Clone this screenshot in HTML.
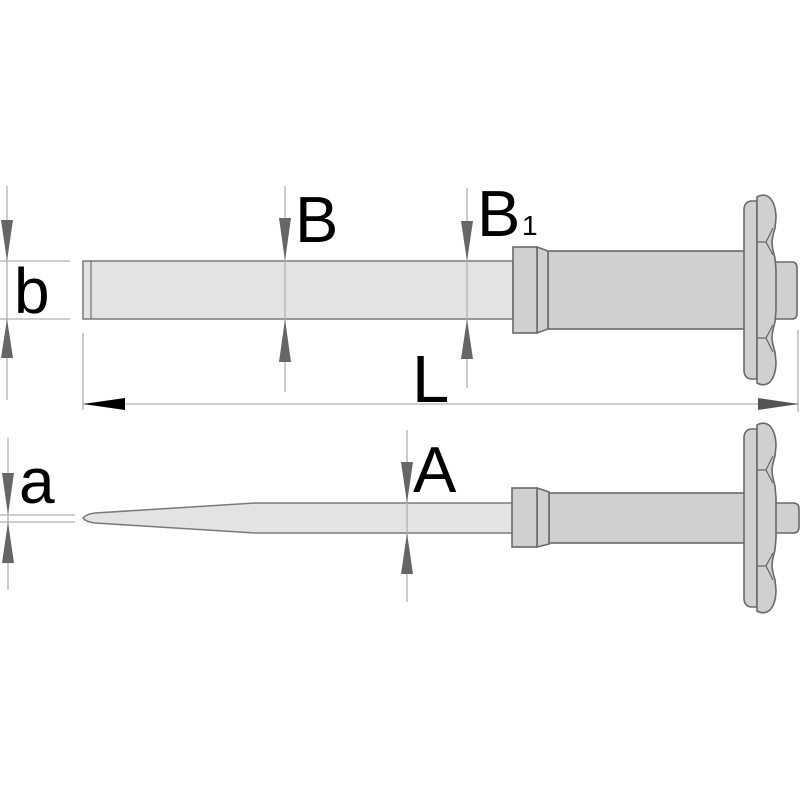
<!DOCTYPE html>
<html><head><style>
html,body{margin:0;padding:0;background:#fff;}
svg{display:block;}
text{font-family:"Liberation Sans",sans-serif;fill:#000;}
</style></head><body>
<svg width="800" height="800" viewBox="0 0 800 800" xmlns="http://www.w3.org/2000/svg">
<defs>
<g id="guard">
  <path d="M757,-89 L751,-89 Q744,-88 744,-80 L744,80 Q744,88 751,89 L757,89 Z" fill="#d0d0d0" stroke="#6a6a6a" stroke-width="1.6"/>
  <path d="M757,-93 Q764,-97 770,-92 Q776,-85 776,-72 L775,-62 Q772,-52 772,-48 Q772,-42 775,-32 L776,-20 L776,20 L775,32 Q772,42 772,48 Q772,52 775,62 L776,72 Q776,85 770,92 Q764,97 757,93 Z" fill="#d0d0d0" stroke="#6a6a6a" stroke-width="1.6"/>
  <path d="M757,-48 L766,-48 L773,-62 M766,-48 L773,-35 M757,48 L766,48 L773,62 M766,48 L773,35" fill="none" stroke="#6a6a6a" stroke-width="1.3"/>
</g>
</defs>

<!-- TOP chisel -->
<path d="M83,261 L513,261 L513,319 L83,319 Z" fill="#e3e3e3" stroke="#7a7a7a" stroke-width="1.5"/>
<line x1="91" y1="261" x2="91" y2="319" stroke="#7a7a7a" stroke-width="1.3"/>
<rect x="548" y="251" width="197" height="78" fill="#d0d0d0" stroke="#6a6a6a" stroke-width="1.6"/>
<path d="M537,247 L548,251 L548,329 L537,333 Z" fill="#d0d0d0" stroke="#6a6a6a" stroke-width="1.6"/>
<rect x="513" y="247" width="24" height="86" fill="#d0d0d0" stroke="#6a6a6a" stroke-width="1.6"/>
<path d="M775,262 L792,262 Q797,262 797,268 L797,313 Q797,319 792,319 L775,319 Z" fill="#d0d0d0" stroke="#6a6a6a" stroke-width="1.6"/>
<g transform="translate(0,290)"><use href="#guard"/></g>

<!-- BOTTOM pointed chisel -->
<path d="M83,518 Q86,514 95,513 L255,503 L513,503 L513,533 L255,533 L95,523 Q86,522 83,518 Z" fill="#e3e3e3" stroke="#7a7a7a" stroke-width="1.5"/>
<rect x="549" y="493" width="196" height="50" fill="#d0d0d0" stroke="#6a6a6a" stroke-width="1.6"/>
<path d="M537,488 L549,492 L549,544 L537,547 Z" fill="#d0d0d0" stroke="#6a6a6a" stroke-width="1.6"/>
<rect x="512" y="488" width="25" height="59" fill="#d0d0d0" stroke="#6a6a6a" stroke-width="1.6"/>
<path d="M775,503 L793,503 Q799,503 799,509 L799,527 Q799,533 793,533 L775,533 Z" fill="#d0d0d0" stroke="#6a6a6a" stroke-width="1.6"/>
<g transform="translate(0,518)"><use href="#guard"/></g>

<!-- dimension lines -->
<g stroke="#b0b0b0" stroke-width="1.3" fill="none">
  <line x1="7" y1="186" x2="7" y2="400"/>
  <line x1="0" y1="261" x2="70" y2="261"/>
  <line x1="0" y1="319" x2="70" y2="319"/>
  <line x1="285" y1="186" x2="285" y2="392"/>
  <line x1="467" y1="188" x2="467" y2="388"/>
  <line x1="83" y1="333" x2="83" y2="410"/>
  <line x1="798" y1="330" x2="798" y2="412"/>
  <line x1="83" y1="404" x2="798" y2="404"/>
  <line x1="8" y1="438" x2="8" y2="590"/>
  <line x1="0" y1="515" x2="75" y2="515"/>
  <line x1="0" y1="522" x2="75" y2="522"/>
  <line x1="407" y1="430" x2="407" y2="602"/>
</g>
<g fill="#666">
  <path d="M1,220 L13,220 L7,261 Z"/>
  <path d="M1,358 L13,358 L7,319 Z"/>
  <path d="M279,218 L291,218 L285,261 Z"/>
  <path d="M279,362 L291,362 L285,319 Z"/>
  <path d="M461,221 L473,221 L467,261 Z"/>
  <path d="M461,359 L473,359 L467,319 Z"/>
  <path d="M2,473 L14,473 L8,515 Z"/>
  <path d="M2,563 L14,563 L8,522 Z"/>
  <path d="M401,462 L413,462 L407,503 Z"/>
  <path d="M401,574 L413,574 L407,533 Z"/>
  <path d="M758,398 L758,410 L799,404 Z" fill="#555"/>
</g>
<path d="M83,404 L125,398 L125,410 Z" fill="#000"/>

<!-- labels -->
<text x="14" y="313" font-size="64">b</text>
<text x="295" y="242" font-size="65">B</text>
<text x="477" y="236" font-size="65">B</text>
<text x="522" y="235" font-size="28">1</text>
<text x="412" y="402" font-size="67">L</text>
<text x="19" y="503" font-size="64">a</text>
<text x="413" y="492" font-size="65">A</text>
</svg>
</body></html>
